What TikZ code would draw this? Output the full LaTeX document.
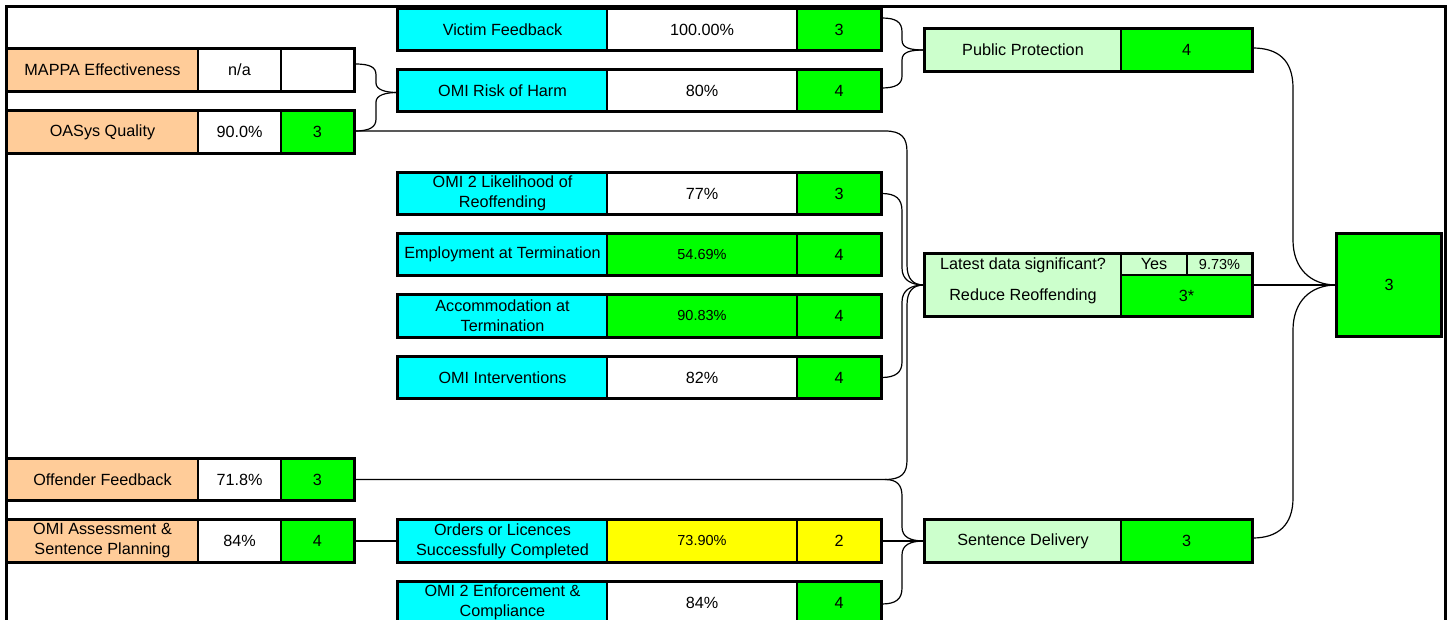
\documentclass[tikz,border=0pt]{standalone}
\usepackage{fontspec}
\setmainfont{Liberation Sans}
\definecolor{orng}{HTML}{FFCC99}
\definecolor{cyn}{HTML}{00FFFF}
\definecolor{grn}{HTML}{00FF00}
\definecolor{lgrn}{HTML}{CCFFCC}
\definecolor{yel}{HTML}{FFFF00}
\newcommand\fsnorm{\fontsize{16.2}{20}\selectfont}
\newcommand\fssmall{\fontsize{14.5}{18}\selectfont}
\tikzset{
  cell/.style={draw=black, line width=1.4pt, inner sep=0pt, align=center, font=\fsnorm, text=black},
  sz/.style 2 args={minimum width=#1pt, minimum height=#2pt},
  rowframe/.style={draw=black, line width=3pt},
  conn/.style={draw=black, line width=1.2pt},
  outerframe/.style={draw=black, line width=3pt},
}
% left row: name, y, label, value, value fill, score, score fill
\newcommand\leftrow[7]{%
  \node[cell,fill=orng,sz={191}{41}] (#1a) at (102.5,#2) {#3};
  \node[cell,fill=#5,sz={83}{41}] (#1b) at (239.5,#2) {#4};
  \node[cell,fill=#7,sz={73}{41}] (#1c) at (317.5,#2) {#6};
  \draw[rowframe] (#1a.north west) rectangle (#1c.south east);}
% middle row: name, y, label, value, value fill, score, score fill
\newcommand\midrow[7]{%
  \node[cell,fill=cyn,sz={209}{41}] (#1a) at (502.5,#2) {#3};
  \node[cell,fill=#5,sz={190}{41}] (#1b) at (702,#2) {#4};
  \node[cell,fill=#7,sz={84}{41}] (#1c) at (839,#2) {#6};
  \draw[rowframe] (#1a.north west) rectangle (#1c.south east);}
% right row: name, y, label, score
\newcommand\rightrow[4]{%
  \node[cell,fill=lgrn,sz={196}{42}] (#1a) at (1023,#2) {#3};
  \node[cell,fill=grn,sz={131}{42}] (#1b) at (1186.5,#2) {#4};
  \draw[rowframe] (#1a.north west) rectangle (#1b.south east);}
\begin{document}
\begin{tikzpicture}[x=1pt,y=-1pt]
\useasboundingbox (0,0) rectangle (1449,620);
\fill[white] (0,0) rectangle (1449,620);
\draw[outerframe] (6,7) rectangle (1445,660);

% left column
\leftrow{mp}{70}{MAPPA Effectiveness}{n/a}{white}{}{white}
\leftrow{oq}{132}{OASys Quality}{90.0\%}{white}{3}{grn}
\leftrow{of}{479.5}{Offender Feedback}{71.8\%}{white}{3}{grn}
\leftrow{as}{541}{OMI Assessment \&\\Sentence Planning}{84\%}{white}{4}{grn}

% middle column
\midrow{vf}{29.5}{Victim Feedback}{100.00\%}{white}{3}{grn}
\midrow{rh}{90.5}{OMI Risk of Harm}{80\%}{white}{4}{grn}
\midrow{lh}{193.5}{OMI 2 Likelihood of\\Reoffending}{77\%}{white}{3}{grn}
\midrow{em}{254.5}{Employment at Termination}{\fssmall 54.69\%}{grn}{4}{grn}
\midrow{ac}{316}{Accommodation at\\Termination}{\fssmall 90.83\%}{grn}{4}{grn}
\midrow{in}{377.5}{OMI Interventions}{82\%}{white}{4}{grn}
\midrow{or}{541}{Orders or Licences\\Successfully Completed}{\fssmall 73.90\%}{yel}{2}{yel}
\midrow{en}{602.5}{OMI 2 Enforcement \&\\Compliance}{84\%}{white}{4}{grn}

% right column
\rightrow{pp}{50}{Public Protection}{4}
\rightrow{sd}{541}{Sentence Delivery}{3}
\node[cell,fill=lgrn,sz={196}{62}] (rrl) at (1023,285) {};
\node[cell,fill=lgrn,sz={66}{21}] (rry) at (1154,264.5) {Yes};
\node[cell,fill=lgrn,sz={65}{21},font=\fssmall] (rrp) at (1219.5,264.5) {9.73\%};
\node[cell,fill=grn,sz={131}{41}] (rrs) at (1186.5,295.5) {3*};
\draw[rowframe] (rrl.north west) rectangle (rrs.south east);
\node[font=\fsnorm, inner sep=0pt] (rrq) at (1023,265) {Latest data significant?};
\node[font=\fsnorm, inner sep=0pt] (rrn) at (1023,296) {Reduce Reoffending};

% overall
\node[cell,fill=grn,sz={104}{102}] (big) at (1389,285) {3};
\draw[rowframe] (big.north west) rectangle (big.south east);

% connectors: Public Protection brace
\draw[conn] ([yshift=11.5pt]vfc.east) .. controls (896,18) and (902,22) .. (902,32) -- (902,40) .. controls (902,48) and (910,50) .. (ppa.west);
\draw[conn] ([yshift=2.5pt]rhc.east) .. controls (896,88) and (902,84) .. (902,76) -- (902,60) .. controls (902,52) and (910,50) .. (ppa.west);

% MAPPA / OASys brace into OMI Risk of Harm
\draw[conn] ([yshift=6pt]mpc.east) .. controls (370,64) and (376,67) .. (376,75) -- (376,83) .. controls (376,90) and (386,92.5) .. ([yshift=-2pt]rha.west);
\draw[conn] ([yshift=1pt]oqc.east) .. controls (370,131) and (376,127) .. (376,119) -- (376,102) .. controls (376,95) and (386,92.5) .. ([yshift=-2pt]rha.west);

% Reduce Reoffending brace
\draw[conn] ([yshift=1pt]oqc.east) -- (885,131) .. controls (902,131) and (907,138) .. (907,152) -- (907,265) .. controls (907,279) and (913,285) .. (rrl.west);
\draw[conn] (lhc.east) .. controls (896,193.5) and (902,199) .. (902,211) -- (902,268) .. controls (902,280) and (911,285) .. (rrl.west);
\draw[conn] (inc.east) .. controls (896,377.5) and (902,372) .. (902,362) -- (902,302) .. controls (902,290) and (911,285) .. (rrl.west);
\draw[conn] (ofc.east) -- (885,479.5) coordinate (ofj) .. controls (902,479.5) and (907,473) .. (907,460) -- (907,305) .. controls (907,291) and (913,285) .. (rrl.west);

% Sentence Delivery brace
\draw[conn] (ofj) .. controls (897,479.5) and (902,485) .. (902,496) -- (902,527) .. controls (902,537) and (910,541) .. (sda.west);
\draw[conn] (orc.east) -- (sda.west);
\draw[conn] ([yshift=-1.5pt]enc.east) .. controls (896,604) and (902,599) .. (902,588) -- (902,555) .. controls (902,545) and (910,541) .. (sda.west);
\draw[conn] (asc.east) -- (ora.west);

% overall brace
\draw[conn] ([yshift=2pt]ppb.east) .. controls (1278,48) and (1293,60) .. (1293,88) -- (1293,240) .. controls (1293,268) and (1310,285) .. (big.west);
\draw[conn] ([yshift=10.5pt]rrs.east) -- (big.west);
\draw[conn] ([yshift=3pt]sdb.east) .. controls (1278,538) and (1293,525) .. (1293,498) -- (1293,330) .. controls (1293,302) and (1310,285) .. (big.west);
\end{tikzpicture}
\end{document}
